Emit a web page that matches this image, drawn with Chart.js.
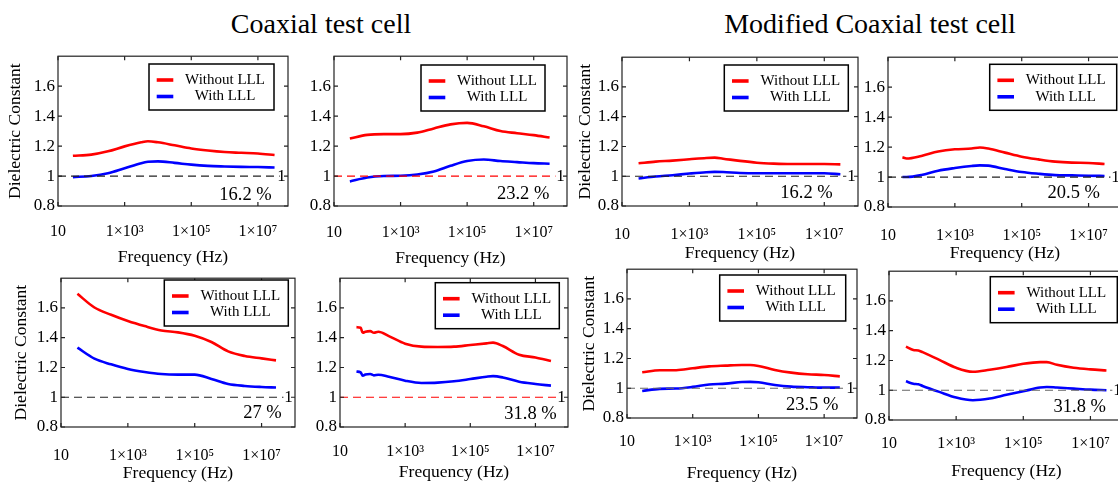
<!DOCTYPE html>
<html><head><meta charset="utf-8">
<script src="https://cdn.jsdelivr.net/npm/chart.js@4.4.1/dist/chart.umd.min.js"></script>
<style>
html,body{margin:0;padding:0;background:#fff;width:1118px;height:482px;overflow:hidden;position:relative}
.t{position:absolute;font-family:"Liberation Serif","Times New Roman",serif;font-size:28px;line-height:28px;color:#000;white-space:nowrap;transform:translateX(-50%)}
canvas{position:absolute}
</style></head><body>
<div class="t" style="left:321px;top:10px">Coaxial test cell</div>
<div class="t" style="left:870px;top:10px">Modified Coaxial test cell</div>
<script>
// ---------- data ----------
const xTickValues = [10, 1e3, 1e5, 1e7];
const xTickLabels = ['10', '1×10³', '1×10⁵', '1×10⁷'];
const yTickValues = [0.8, 1, 1.2, 1.4, 1.6];
const yTickLabels = ['0.8', '1', '1.2', '1.4', '1.6'];
const seriesNames = ['Without LLL', 'With LLL'];
const refLineX = [10, 4.5e7];
const refLineY = 1;

// Coaxial test cell, top-left
const freq1 = [28, 100, 316, 1e3, 3160, 5000, 1e4, 31600, 1e5, 316000, 1e6, 3.16e6, 1e7, 3.16e7];
const without1 = [1.135, 1.143, 1.165, 1.198, 1.225, 1.232, 1.225, 1.205, 1.184, 1.17, 1.16, 1.155, 1.15, 1.14];
const with1 = [0.993, 1.0, 1.018, 1.052, 1.086, 1.095, 1.098, 1.088, 1.076, 1.068, 1.064, 1.061, 1.06, 1.057];
// Coaxial test cell, top-right
const freq2 = [30, 100, 316, 1e3, 3160, 1e4, 31600, 1e5, 316000, 1e6, 3.16e6, 1e7, 3e7];
const without2 = [1.25, 1.275, 1.28, 1.28, 1.29, 1.318, 1.345, 1.355, 1.332, 1.30, 1.286, 1.273, 1.257];
const with2 = [0.964, 0.99, 1.0, 1.002, 1.01, 1.03, 1.068, 1.10, 1.11, 1.10, 1.093, 1.086, 1.082];
// Modified, top-left
const freq3 = [31, 100, 316, 1e3, 3160, 5600, 1e4, 31600, 1e5, 316000, 1e6, 3.16e6, 1e7, 3e7];
const without3 = [1.087, 1.098, 1.105, 1.114, 1.123, 1.125, 1.118, 1.103, 1.091, 1.085, 1.082, 1.082, 1.082, 1.08];
const with3 = [0.985, 0.998, 1.007, 1.018, 1.027, 1.029, 1.028, 1.022, 1.02, 1.02, 1.02, 1.02, 1.02, 1.013];
// Modified, top-right
const freq4 = [27, 36, 100, 316, 1e3, 3160, 5600, 1e4, 31600, 1e5, 316000, 1e6, 3.16e6, 1e7, 3e7];
const without4 = [1.132, 1.124, 1.141, 1.17, 1.185, 1.19, 1.197, 1.19, 1.163, 1.136, 1.118, 1.103, 1.096, 1.094, 1.087];
const with4 = [1.0, 1.0, 1.013, 1.042, 1.06, 1.074, 1.078, 1.076, 1.054, 1.034, 1.022, 1.013, 1.011, 1.009, 1.007];
// Coaxial, bottom-left
const freq5 = [31, 100, 316, 1e3, 3160, 1e4, 31600, 1e5, 316000, 1e6, 3.16e6, 1e7, 2.7e7];
const without5 = [1.695, 1.603, 1.554, 1.512, 1.478, 1.449, 1.436, 1.413, 1.371, 1.308, 1.277, 1.261, 1.248];
const with5 = [1.333, 1.259, 1.221, 1.19, 1.17, 1.156, 1.152, 1.152, 1.123, 1.089, 1.076, 1.069, 1.065];
// Coaxial, bottom-right
const freq6 = [32, 43, 50, 60, 85, 110, 150, 316, 1e3, 3160, 1e4, 31600, 1e5, 316000, 5e5, 1e6, 3.16e6, 1e7, 3e7];
const without6 = [1.471, 1.467, 1.433, 1.44, 1.444, 1.433, 1.44, 1.411, 1.36, 1.34, 1.338, 1.34, 1.351, 1.362, 1.367, 1.344, 1.286, 1.267, 1.244];
const with6 = [1.173, 1.167, 1.144, 1.152, 1.156, 1.147, 1.151, 1.138, 1.111, 1.096, 1.098, 1.107, 1.122, 1.138, 1.142, 1.133, 1.104, 1.089, 1.078];
// Modified, bottom-left
const freq7 = [29, 100, 316, 1e3, 3160, 1e4, 31600, 56000, 1e5, 316000, 1e6, 3.16e6, 1e7, 3e7];
const without7 = [1.107, 1.121, 1.121, 1.134, 1.147, 1.152, 1.156, 1.156, 1.15, 1.123, 1.105, 1.094, 1.089, 1.08];
const with7 = [0.982, 0.996, 0.998, 1.009, 1.025, 1.031, 1.042, 1.043, 1.04, 1.022, 1.011, 1.007, 1.004, 1.004];
// Modified, bottom-right
const freq8 = [32, 53, 75, 100, 316, 1e3, 3160, 1e4, 31600, 1e5, 316000, 5e5, 1e6, 3.16e6, 1e7, 3e7];
const without8 = [1.293, 1.271, 1.267, 1.256, 1.204, 1.151, 1.124, 1.138, 1.156, 1.178, 1.189, 1.189, 1.171, 1.151, 1.14, 1.133];
const with8 = [1.06, 1.044, 1.04, 1.029, 0.989, 0.951, 0.933, 0.944, 0.969, 0.993, 1.018, 1.022, 1.018, 1.011, 1.004, 1.0];

const reductions = ['16.2 %', '23.2 %', '16.2 %', '20.5 %', '27 %', '31.8 %', '23.5 %', '31.8 %'];

// ---------- layout (page pixels of each plot box) ----------
const FONT = '"Liberation Serif","Times New Roman",serif';
const AXW = 60, PADT = 12, PADR = 14;
const panels = [
  {f:freq1, a:without1, b:with1, L:58, R:288, T:55, B:206, xmax:8e7, H:61.5, xp:16.2, yt:6.8, dash:'#222', lg:[274,64,125], pc:[271.7,195]},
  {f:freq2, a:without2, b:with2, L:334, R:567, T:55, B:206, xmax:1e8, H:62.5, xp:17.2, yt:null, dash:'#ff0000', lg:[545,65,124], pc:[549.3,194]},
  {f:freq3, a:without3, b:with3, L:622, R:858, T:56, B:206, xmax:1e8, H:58.2, xp:19.5, yt:13.3, dash:'#222', lg:[848.3,65,124], pc:[832.7,193.3]},
  {f:freq4, a:without4, b:with4, L:888, R:1122, T:56, B:207, xmax:1e8, H:56.8, xp:18.8, yt:null, dash:'#222', lg:[1116.7,64.3,127], pc:[1100,193.3]},
  {f:freq5, a:without5, b:with5, L:61, R:295, T:277, B:427, xmax:1e8, H:56.8, xp:18.8, yt:9.5, dash:'#222', lg:[288.3,280,124], pc:[281.7,413.3]},
  {f:freq6, a:without6, b:with6, L:340, R:568, T:277, B:427, xmax:1e8, H:56.2, xp:15.5, yt:null, dash:'#ff0000', lg:[559.3,282.7,124], pc:[556.7,414]},
  {f:freq7, a:without7, b:with7, L:627, R:857, T:268, B:418, xmax:1e8, H:65.8, xp:14.5, yt:12.3, dash:'#666', lg:[845.7,275,126], pc:[838.3,405]},
  {f:freq8, a:without8, b:with8, L:889, R:1124, T:270, B:420, xmax:1e8, H:61.9, xp:13.8, yt:null, dash:'#666', lg:[1117.3,276.7,127], pc:[1106,406.7]}
];

function makeFrame(P) {
  return {
    id: 'frame',
    afterDraw(chart) {
      const ctx = chart.ctx;
      const {left, right, top, bottom} = chart.chartArea;
      const xs = chart.scales.x, ys = chart.scales.y;
      const ox = P.L - AXW, oy = P.T - PADT;
      ctx.save();
      ctx.strokeStyle = '#222'; ctx.lineWidth = 1.2;
      ctx.strokeRect(left, top, right - left, bottom - top);
      ctx.beginPath();
      xTickValues.forEach(v => { const px = xs.getPixelForValue(v);
        ctx.moveTo(px, bottom); ctx.lineTo(px, bottom - 4); ctx.moveTo(px, top); ctx.lineTo(px, top + 4); });
      yTickValues.forEach(v => { const py = ys.getPixelForValue(v);
        ctx.moveTo(left, py); ctx.lineTo(left + 4, py); ctx.moveTo(right, py); ctx.lineTo(right - 4, py); });
      ctx.stroke();
      ctx.fillStyle = '#000';
      ctx.font = '17px ' + FONT; ctx.textAlign = 'center'; ctx.textBaseline = 'middle';
      ctx.fillText('1', right - 6.5, ys.getPixelForValue(refLineY));
      ctx.font = '18.5px ' + FONT; ctx.textAlign = 'right';
      ctx.fillText(P.pct, P.pc[0] - ox, P.pc[1] - oy);
      const w = P.lg[2], h = 46, bx = P.lg[0] - ox - w, by = P.lg[1] - oy;
      ctx.fillStyle = '#fff'; ctx.fillRect(bx, by, w, h);
      ctx.strokeStyle = '#000'; ctx.lineWidth = 1.5; ctx.strokeRect(bx, by, w, h);
      const cols = ['#ff0000', '#0000ff'], ly = [16, 32.5];
      seriesNames.forEach((n, i) => {
        ctx.lineWidth = 3.6; ctx.strokeStyle = cols[i]; ctx.beginPath();
        ctx.moveTo(bx + 7.7, by + ly[i]); ctx.lineTo(bx + 24.3, by + ly[i]); ctx.stroke();
        ctx.fillStyle = '#000'; ctx.font = '15px ' + FONT; ctx.textAlign = 'center';
        ctx.fillText(n, bx + 76, by + ly[i]);
      });
      ctx.restore();
    }
  };
}

panels.forEach((P, k) => {
  P.pct = reductions[k];
  const c = document.createElement('canvas');
  const H = Math.round(P.H);
  const cw = AXW + (P.R - P.L) + PADR, ch = PADT + (P.B - P.T) + H;
  c.width = cw; c.height = ch;
  c.style.left = (P.L - AXW) + 'px'; c.style.top = (P.T - PADT) + 'px';
  c.style.width = cw + 'px'; c.style.height = ch + 'px';
  document.body.appendChild(c);
  const line = (xArr, yArr, color, extra) => Object.assign({
    data: xArr.map((x, i) => ({x, y: yArr[i]})), borderColor: color, backgroundColor: color,
    borderWidth: 2.6, pointRadius: 0, fill: false, cubicInterpolationMode: 'monotone'
  }, extra || {});
  new Chart(c, {
    type: 'line',
    data: { datasets: [
      line(refLineX, refLineX.map(() => refLineY), P.dash, {label: 'ε = 1', borderWidth: 1.2, borderDash: [8, 5], cubicInterpolationMode: 'default', tension: 0}),
      line(P.f, P.a, '#ff0000', {label: seriesNames[0]}),
      line(P.f, P.b, '#0000ff', {label: seriesNames[1]})
    ]},
    options: {
      responsive: false, animation: false, devicePixelRatio: 1,
      layout: {padding: {left: 0, right: PADR, top: PADT, bottom: 0}},
      plugins: {legend: {display: false}, tooltip: {enabled: false}},
      scales: {
        x: {
          type: 'logarithmic', min: 10, max: P.xmax,
          afterBuildTicks: s => { s.ticks = xTickValues.map(v => ({value: v})); },
          ticks: {callback: (v, i) => xTickLabels[i], font: {family: FONT, size: 16}, color: '#000',
                  padding: P.xp, maxRotation: 0, autoSkip: false},
          grid: {display: false, drawTicks: false}, border: {display: false},
          title: {display: true, text: 'Frequency (Hz)', font: {family: FONT, size: 17.5}, color: '#000', padding: 0},
          afterFit: s => { s.height = H; }
        },
        y: {
          type: 'linear', min: 0.8, max: 1.8,
          afterBuildTicks: s => { s.ticks = yTickValues.map(v => ({value: v})); },
          ticks: {callback: (v, i) => yTickLabels[i], font: {family: FONT, size: 17}, color: '#000', padding: 3},
          grid: {display: false, drawTicks: false}, border: {display: false},
          title: {display: P.yt !== null, text: 'Dielectric Constant', font: {family: FONT, size: 17.5}, color: '#000',
                  padding: {top: P.yt || 0, bottom: 0}},
          afterFit: s => { s.width = AXW; }
        }
      }
    },
    plugins: [makeFrame(P)]
  });
});
</script>
</body></html>
